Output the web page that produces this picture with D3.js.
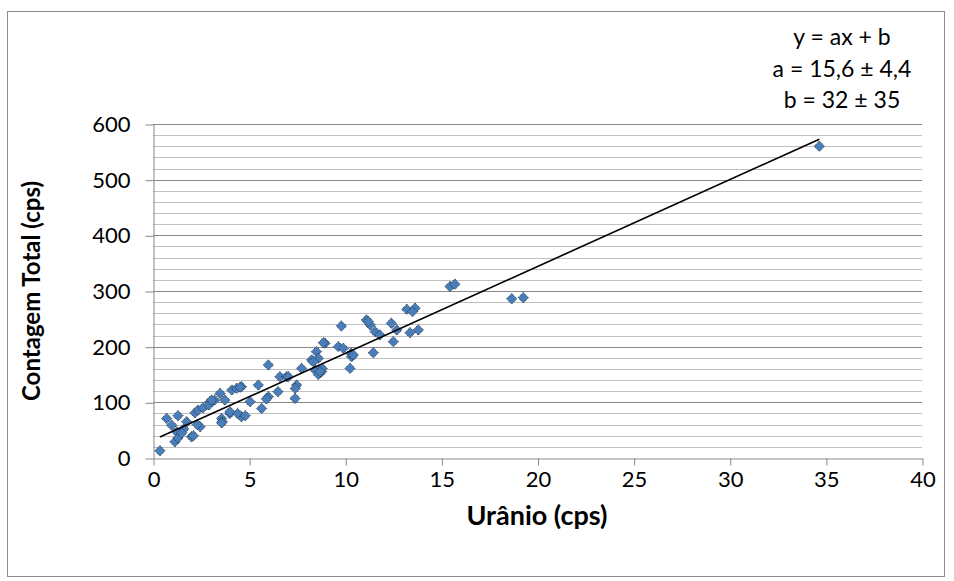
<!DOCTYPE html>
<html>
<head>
<meta charset="utf-8">
<script src="https://cdn.jsdelivr.net/npm/d3@7"></script>
<style>
  html, body { margin: 0; padding: 0; background: #fff; }
  svg { display: block; font-family: Lato, "Open Sans", sans-serif; }
</style>
</head>
<body>
<svg id="chart" width="954" height="581"></svg>
<script>
// Uranium count rate (cps) for each sample
const uranio = [
  0.36, 0.71, 1.30, 0.97, 1.23, 1.14, 1.30, 1.75, 2.00, 2.10,
  2.18, 2.34, 2.60, 2.45, 2.96, 3.20, 3.49, 3.74, 3.57, 3.60,
  4.00, 4.10, 4.35, 4.60, 4.60, 4.40, 5.05, 5.48, 5.65, 4.80,
  6.00, 6.00, 5.90, 6.50, 6.60, 6.95, 7.39, 7.47, 7.40, 7.73,
  8.25, 8.50, 8.60, 8.43, 8.77, 8.60, 8.80, 8.95, 9.64, 9.90,
  10.33, 10.25, 9.80, 11.10, 11.30, 11.55, 11.80, 12.40, 12.50, 11.46,
  12.68, 13.20, 13.63, 13.50, 13.37, 13.80, 10.30, 15.45, 15.70, 18.66,
  19.26, 34.66, 1.60, 2.90, 3.05, 4.53, 4.00, 3.57, 7.04, 8.34,
  8.86, 8.69, 10.42, 11.20, 2.30, 1.50
];
// Total count rate (cps) for the same samples
const contagemTotal = [
  13, 71, 76, 59, 47, 29, 36, 65, 38, 40,
  81, 86, 90, 56, 101, 104, 116, 104, 71, 65,
  80, 122, 125, 128, 74, 80, 101, 131, 89, 76,
  167, 110, 106, 119, 146, 146, 107, 131, 125, 161,
  176, 191, 179, 158, 155, 150, 161, 206, 200, 197,
  182, 161, 237, 248, 239, 227, 221, 242, 209, 189,
  230, 267, 269, 263, 225, 230, 188, 308, 312, 286,
  288, 560, 52, 95, 104, 127, 83, 63, 146, 173,
  207, 155, 185, 245, 60, 45
];

// Linear fit y = a x + b
const slopeA = 15.6;
const interceptB = 32;
const fitLabels = ["y = ax + b", "a = 15,6 \u00b1 4,4", "b = 32 \u00b1 35"];

const xTicks = [0, 5, 10, 15, 20, 25, 30, 35, 40];
const yTicks = [0, 100, 200, 300, 400, 500, 600];
const yMinorTicks = d3.range(20, 600, 20).filter(v => v % 100 !== 0);

const xTitle = "Urânio (cps)";
const yTitle = "Contagem Total (cps)";

const svg = d3.select("#chart");
const plot = { left: 153, right: 922, top: 124, bottom: 458 };

const x = d3.scaleLinear().domain([0, 40]).range([plot.left, plot.right]);
const y = d3.scaleLinear().domain([0, 600]).range([plot.bottom, plot.top]);

// Outer chart frame
svg.append("rect")
  .attr("x", 7.5).attr("y", 11.5)
  .attr("width", 937).attr("height", 565)
  .attr("fill", "#fff").attr("stroke", "#8c8c8c").attr("stroke-width", 1);

// Minor horizontal gridlines
svg.append("g").selectAll("line").data(yMinorTicks).join("line")
  .attr("x1", plot.left).attr("x2", plot.right)
  .attr("y1", d => Math.round(y(d)) + 0.5).attr("y2", d => Math.round(y(d)) + 0.5)
  .attr("stroke", "#c0c0c0").attr("stroke-width", 1);

// Major horizontal gridlines
svg.append("g").selectAll("line").data(yTicks.filter(d => d > 0)).join("line")
  .attr("x1", plot.left).attr("x2", plot.right)
  .attr("y1", d => Math.round(y(d)) + 0.5).attr("y2", d => Math.round(y(d)) + 0.5)
  .attr("stroke", "#888888").attr("stroke-width", 1);

// Y axis
const yAxis = d3.axisLeft(y).tickValues(yTicks).tickSize(8).tickPadding(15).tickSizeOuter(0);
const gy = svg.append("g")
  .attr("transform", `translate(${plot.left + 0.5},0.5)`)
  .call(yAxis);
gy.select(".domain").attr("stroke", "#888888");
gy.selectAll(".tick line").attr("stroke", "#888888");
gy.selectAll(".tick text")
  .attr("font-family", "Lato, 'Open Sans', sans-serif")
  .attr("font-size", 22).attr("fill", "#000");

// X axis
const xAxis = d3.axisBottom(x).tickValues(xTicks).tickSize(7).tickPadding(6).tickSizeOuter(0);
const gx = svg.append("g")
  .attr("transform", `translate(0.5,${plot.bottom + 0.5})`)
  .call(xAxis);
gx.select(".domain").attr("stroke", "#888888");
gx.selectAll(".tick line").attr("stroke", "#888888");
gx.selectAll(".tick text")
  .attr("font-family", "Lato, 'Open Sans', sans-serif")
  .attr("font-size", 22).attr("fill", "#000");

// Data points: blue diamonds with dark dotted outline
const pts = uranio.map((u, i) => ({ u, c: contagemTotal[i] }));
const r = 5.2;
const diamondPath = `M0,${-r}L${r},0L0,${r}L${-r},0Z`;
svg.append("g").selectAll("path").data(pts).join("path")
  .attr("transform", d => `translate(${x(d.u)},${y(d.c)})`)
  .attr("d", diamondPath)
  .attr("fill", "#4a7ebb")
  .attr("stroke", "#1b2a3a")
  .attr("stroke-width", 0.9)
  .attr("stroke-dasharray", "1.2,1");

// Fitted line over the range of the data
const xMin = d3.min(uranio), xMax = d3.max(uranio);
svg.append("line")
  .attr("x1", x(xMin)).attr("y1", y(slopeA * xMin + interceptB))
  .attr("x2", x(xMax)).attr("y2", y(slopeA * xMax + interceptB))
  .attr("stroke", "#000").attr("stroke-width", 1.6);

// Fit annotation
svg.append("g").selectAll("text").data(fitLabels).join("text")
  .attr("x", 842).attr("y", (d, i) => 45 + i * 31.5)
  .attr("text-anchor", "middle")
  .attr("font-size", 23).attr("fill", "#000")
  .text(d => d);

// Axis titles
svg.append("text")
  .attr("x", 537).attr("y", 525)
  .attr("text-anchor", "middle")
  .attr("font-size", 27).attr("font-weight", "bold")
  .text(xTitle);

svg.append("text")
  .attr("transform", "translate(40,291) rotate(-90)")
  .attr("text-anchor", "middle")
  .attr("font-size", 24).attr("font-weight", "bold")
  .text(yTitle);
</script>
</body>
</html>
